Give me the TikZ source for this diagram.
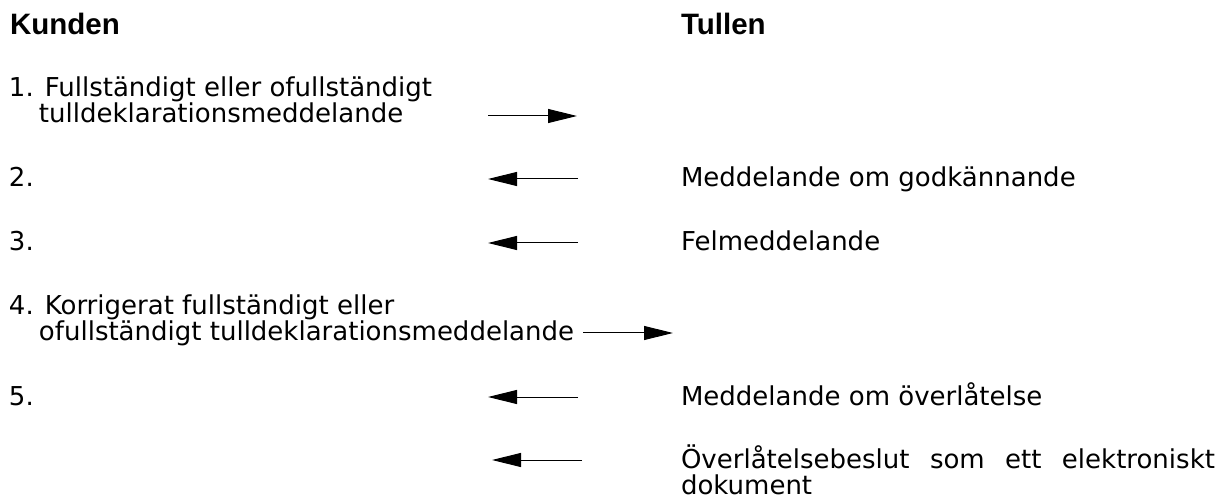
\documentclass[tikz,border=0pt]{standalone}
\usepackage{fontspec}
\setmainfont{DejaVu Sans}
\newfontfamily\headfont{Liberation Sans}
\usetikzlibrary{arrows.meta}
\begin{document}
\begin{tikzpicture}[x=1pt,y=-1pt,
  body/.style={anchor=base west, inner sep=0pt, outer sep=0pt, font=\fontsize{26}{26}\selectfont, align=left},
  head/.style={anchor=base west, inner sep=0pt, outer sep=0pt, font=\headfont\bfseries\fontsize{29.5}{30}\selectfont},
  msg/.style={line width=1pt, -{Triangle[length=29pt,width=14pt]}}]
\useasboundingbox (0,0) rectangle (1223,502);
% headings
\node[head] (kunden) at (10,35) {Kunden};
\node[head] (tullen) at (681,35) {Tullen};
% left column (multi-line nodes: base = last line)
\node[body] (k1) at (9,123) {1. Fullständigt eller ofullständigt\\\hspace*{30pt}tulldeklarationsmeddelande};
\node[body] (k2) at (9,187) {2.};
\node[body] (k3) at (9,251) {3.};
\node[body] (k4) at (9,341) {4. Korrigerat fullständigt eller\\\hspace*{30pt}ofullständigt tulldeklarationsmeddelande};
\node[body] (k5) at (9,405) {5.};
% right column
\node[body] (t2) at (681,187) {Meddelande om godkännande};
\node[body] (t3) at (681,251) {Felmeddelande};
\node[body] (t5) at (681,405) {Meddelande om överlåtelse};
\node[body, text width=534pt] (t6) at (681,468) {Överlåtelsebeslut\hfill som\hfill ett\hfill elektroniskt\\dokument};
% arrow end points
\coordinate (a1s) at (488,116); \coordinate (a1e) at (577,116);
\coordinate (a2s) at (578,179); \coordinate (a2e) at (488,179);
\coordinate (a3s) at (578,243); \coordinate (a3e) at (488,243);
\coordinate (a4s) at (583,333); \coordinate (a4e) at (673,333);
\coordinate (a5s) at (578,397); \coordinate (a5e) at (488,397);
\coordinate (a6s) at (582,460); \coordinate (a6e) at (492,460);
\draw[msg] (a1s) -- (a1e);
\draw[msg] (a2s) -- (a2e);
\draw[msg] (a3s) -- (a3e);
\draw[msg] (a4s) -- (a4e);
\draw[msg] (a5s) -- (a5e);
\draw[msg] (a6s) -- (a6e);
\end{tikzpicture}
\end{document}
